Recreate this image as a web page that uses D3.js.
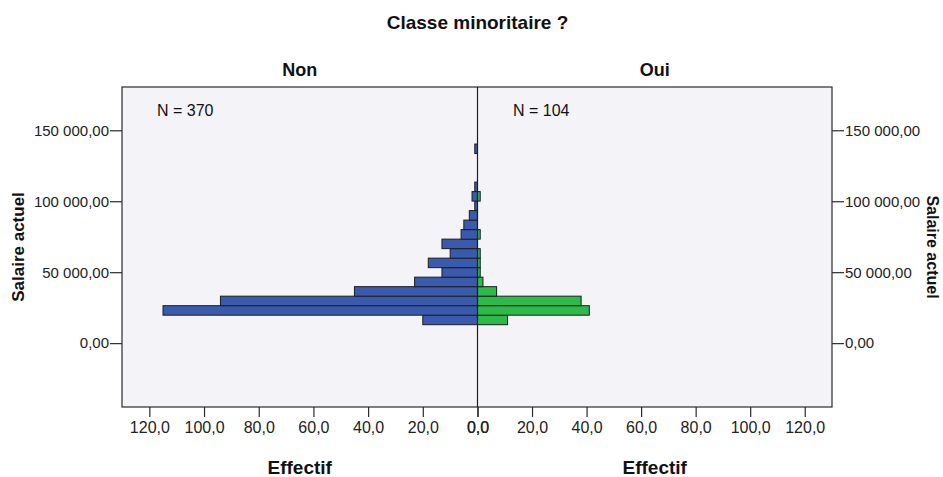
<!DOCTYPE html>
<html>
<head>
<meta charset="utf-8">
<script src="https://cdn.jsdelivr.net/npm/d3@7"></script>
<style>
  body { margin: 0; background: #fff; }
  text { font-family: "Liberation Sans", Arial, sans-serif; }
</style>
</head>
<body>
<svg id="chart" width="943" height="477"></svg>
<script>
// bin edges of "Salaire actuel" (lower edge of each bar, plus the top edge of the last one)
const binEdges = [13000, 19700, 26400, 33100, 39800, 46500, 53200, 59900, 66600, 73300,
                  80000, 86700, 93400, 100100, 106800, 113500, 120200, 126900, 133600, 140300];
// counts per bin, bottom to top
const countsNon = [20, 115, 94, 45, 23, 13, 18, 10, 13, 6, 5, 3, 1, 2, 1, 0, 0, 0, 1];
const countsOui = [11, 41, 38, 7, 2, 1, 1, 1, 0, 1, 0, 0, 0, 1, 0, 0, 0, 0, 0];
const panels = ["Non", "Oui"];
const panelN = [370, 104];
const salaryTicks = [0, 50000, 100000, 150000];
const countTicks = [0, 20, 40, 60, 80, 100, 120];

const fr = d3.formatLocale({ decimal: ",", thousands: " ", grouping: [3], currency: ["", " €"] });
const fmtSalary = fr.format(",.2f");
const fmtCount = fr.format(".1f");

const svg = d3.select("#chart");
const plot = { left: 122, right: 832, top: 87, bottom: 407, mid: 477.5 };

const y = d3.scaleLinear().domain([-45000, 180500]).range([plot.bottom, plot.top]);
const xLeft = d3.scaleLinear().domain([0, 130]).range([plot.mid, plot.left]);
const xRight = d3.scaleLinear().domain([0, 130]).range([plot.mid, plot.right]);

// plot background
svg.append("rect")
    .attr("x", plot.left).attr("y", plot.top)
    .attr("width", plot.right - plot.left).attr("height", plot.bottom - plot.top)
    .attr("fill", "#f4f3f7");

const bins = countsNon.map((c, i) => ({
    lo: binEdges[i], hi: binEdges[i + 1], non: c, oui: countsOui[i]
}));

// Non bars, growing to the left
svg.append("g").selectAll("rect")
    .data(bins.filter(d => d.non > 0))
    .enter().append("rect")
    .attr("x", d => xLeft(d.non))
    .attr("y", d => y(d.hi))
    .attr("width", d => xLeft(0) - xLeft(d.non))
    .attr("height", d => y(d.lo) - y(d.hi))
    .attr("fill", "#3a5aad")
    .attr("stroke", "#1e1e1e")
    .attr("stroke-width", 1);

// Oui bars, growing to the right
svg.append("g").selectAll("rect")
    .data(bins.filter(d => d.oui > 0))
    .enter().append("rect")
    .attr("x", xRight(0))
    .attr("y", d => y(d.hi))
    .attr("width", d => xRight(d.oui) - xRight(0))
    .attr("height", d => y(d.lo) - y(d.hi))
    .attr("fill", "#2cba4b")
    .attr("stroke", "#1e1e1e")
    .attr("stroke-width", 1);

// frame and centre line
svg.append("rect")
    .attr("x", plot.left).attr("y", plot.top)
    .attr("width", plot.right - plot.left).attr("height", plot.bottom - plot.top)
    .attr("fill", "none").attr("stroke", "#2a2a2a").attr("stroke-width", 1.2);
svg.append("line")
    .attr("x1", plot.mid).attr("x2", plot.mid)
    .attr("y1", plot.top).attr("y2", plot.bottom)
    .attr("stroke", "#1e1e1e").attr("stroke-width", 1.2);

function styleAxis(g, size) {
    g.select(".domain").remove();
    g.selectAll(".tick line").attr("stroke", "#2a2a2a").attr("stroke-width", 1.2);
    g.selectAll(".tick text").attr("fill", "#222").style("font-size", size + "px");
}

svg.append("g")
    .attr("transform", `translate(${plot.left},0)`)
    .call(d3.axisLeft(y).tickValues(salaryTicks).tickFormat(fmtSalary).tickSize(12).tickPadding(1))
    .call(g => styleAxis(g, 15));
svg.append("g")
    .attr("transform", `translate(${plot.right},0)`)
    .call(d3.axisRight(y).tickValues(salaryTicks).tickFormat(fmtSalary).tickSize(12).tickPadding(1))
    .call(g => styleAxis(g, 15));

svg.append("g")
    .attr("transform", `translate(0,${plot.bottom})`)
    .call(d3.axisBottom(xLeft).tickValues(countTicks).tickFormat(fmtCount).tickSize(10).tickPadding(4.5))
    .call(g => styleAxis(g, 16));
svg.append("g")
    .attr("transform", `translate(0,${plot.bottom})`)
    .call(d3.axisBottom(xRight).tickValues(countTicks).tickFormat(fmtCount).tickSize(10).tickPadding(4.5))
    .call(g => styleAxis(g, 16));

// titles
svg.append("text")
    .attr("x", plot.mid).attr("y", 29)
    .attr("text-anchor", "middle")
    .style("font-size", "19px").style("font-weight", "bold").attr("fill", "#111")
    .text("Classe minoritaire ?");

const centres = [(plot.left + plot.mid) / 2, (plot.mid + plot.right) / 2];
panels.forEach((p, i) => {
    svg.append("text")
        .attr("x", centres[i]).attr("y", 76)
        .attr("text-anchor", "middle")
        .style("font-size", "18px").style("font-weight", "bold").attr("fill", "#111")
        .text(p);
    svg.append("text")
        .attr("x", centres[i]).attr("y", 474)
        .attr("text-anchor", "middle")
        .style("font-size", "19px").style("font-weight", "bold").attr("fill", "#111")
        .text("Effectif");
});

svg.append("text")
    .attr("x", 157).attr("y", 116)
    .style("font-size", "16px").attr("fill", "#111")
    .text(`N = ${panelN[0]}`);
svg.append("text")
    .attr("x", 513).attr("y", 116)
    .style("font-size", "16px").attr("fill", "#111")
    .text(`N = ${panelN[1]}`);

svg.append("text")
    .attr("transform", "translate(24,247) rotate(-90)")
    .attr("text-anchor", "middle")
    .style("font-size", "17px").style("font-weight", "bold").attr("fill", "#111")
    .text("Salaire actuel");
svg.append("text")
    .attr("transform", "translate(927,247) rotate(90)")
    .attr("text-anchor", "middle")
    .style("font-size", "16px").style("font-weight", "bold").attr("fill", "#111")
    .text("Salaire actuel");
</script>
</body>
</html>
